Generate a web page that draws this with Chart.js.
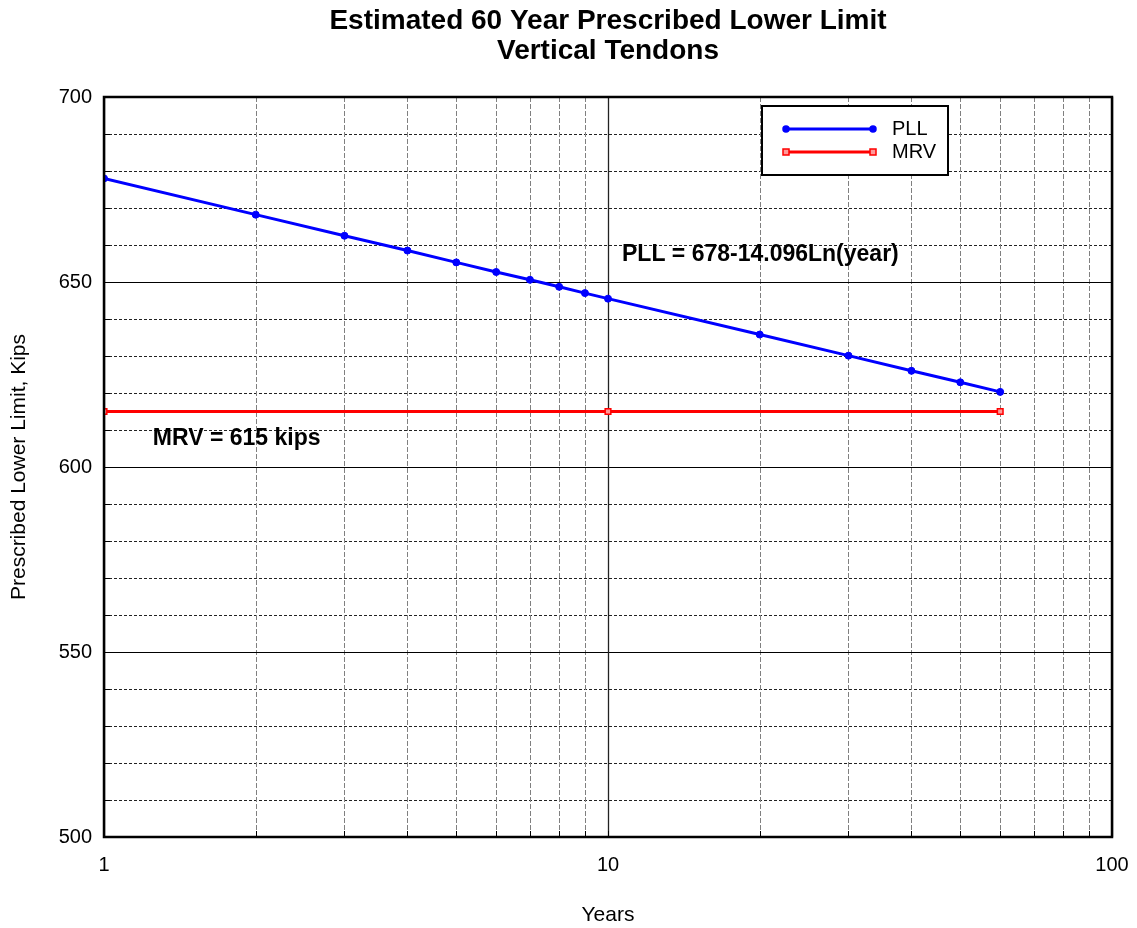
<!DOCTYPE html>
<html>
<head>
<meta charset="utf-8">
<script src="https://cdn.jsdelivr.net/npm/chart.js@4.4.1/dist/chart.umd.min.js"></script>
<style>
html,body{margin:0;padding:0;background:#fff;}
#wrap{width:1137px;height:928px;}
</style>
</head>
<body>
<div id="wrap"><canvas id="c" width="1137" height="928"></canvas></div>
<script>
// ---- data ----
const years = [1, 2, 3, 4, 5, 6, 7, 8, 9, 10, 20, 30, 40, 50, 60];
const pll = [678.0, 668.2, 662.5, 658.5, 655.3, 652.7, 650.6, 648.7, 647.0, 645.5, 635.8, 630.1, 626.0, 622.9, 620.3];
const mrvYears = [1, 10, 60];
const mrv = [615, 615, 615];
const xMajorTicks = [1, 10, 100];
const xMinorTicks = [2, 3, 4, 5, 6, 7, 8, 9, 20, 30, 40, 50, 60, 70, 80, 90];
const yMajorTicks = [500, 550, 600, 650, 700];
const yMinorTicks = [510, 520, 530, 540, 560, 570, 580, 590, 610, 620, 630, 640, 660, 670, 680, 690];
const titleLines = ['Estimated 60 Year Prescribed Lower Limit', 'Vertical Tendons'];
const seriesNames = ['PLL', 'MRV'];
const notes = [
  {text: 'PLL = 678-14.096Ln(year)', x: 10.66, y: 657.3},
  {text: 'MRV = 615 kips', x: 1.25, y: 607.6}
];

const FONT = 'Arial, "Liberation Sans", Helvetica, sans-serif';
const BLUE = '#0000ff', RED = '#ff0000';

const deco = {
  id: 'deco',
  beforeDatasetsDraw(chart) {
    const {ctx, chartArea: a, scales: {x, y}} = chart;
    const hl = (py) => { ctx.beginPath(); ctx.moveTo(a.left, py); ctx.lineTo(a.right, py); ctx.stroke(); };
    const vl = (px) => { ctx.beginPath(); ctx.moveTo(px, a.top); ctx.lineTo(px, a.bottom); ctx.stroke(); };
    ctx.save();
    // title
    ctx.fillStyle = '#000';
    ctx.font = 'bold 28px ' + FONT;
    ctx.textAlign = 'center';
    ctx.textBaseline = 'middle';
    const cx = (a.left + a.right) / 2;
    titleLines.forEach((t, i) => ctx.fillText(t, cx, 21 + i * 30));
    ctx.lineWidth = 1;
    // minor horizontal dashed
    ctx.strokeStyle = '#222';
    ctx.setLineDash([3, 2]);
    yMinorTicks.forEach(v => hl(Math.round(y.getPixelForValue(v)) + 0.5));
    // minor vertical dashed grey
    ctx.strokeStyle = '#808080';
    ctx.setLineDash([5, 2]);
    xMinorTicks.forEach(v => vl(Math.round(x.getPixelForValue(v)) + 0.5));
    // major solid
    ctx.setLineDash([]);
    ctx.strokeStyle = '#000';
    yMajorTicks.forEach(v => hl(Math.round(y.getPixelForValue(v)) + 0.5));
    ctx.strokeStyle = '#222';
    ctx.lineWidth = 1.3;
    xMajorTicks.forEach(v => vl(Math.round(x.getPixelForValue(v)) + 0.5));
    // inner ticks
    ctx.strokeStyle = '#000';
    ctx.lineWidth = 1;
    yMinorTicks.concat(yMajorTicks).forEach(v => {
      const py = Math.round(y.getPixelForValue(v)) + 0.5;
      ctx.beginPath(); ctx.moveTo(a.left, py); ctx.lineTo(a.left + 6, py); ctx.stroke();
    });
    xMinorTicks.concat(xMajorTicks).forEach(v => {
      const px = Math.round(x.getPixelForValue(v)) + 0.5;
      ctx.beginPath(); ctx.moveTo(px, a.bottom); ctx.lineTo(px, a.bottom - 6); ctx.stroke();
    });
    ctx.restore();
  },
  afterDatasetsDraw(chart) {
    const {ctx, chartArea: a, scales: {x, y}} = chart;
    ctx.save();
    // frame
    ctx.strokeStyle = '#000';
    ctx.lineWidth = 2.5;
    ctx.strokeRect(a.left, a.top, a.right - a.left, a.bottom - a.top);
    // notes
    ctx.fillStyle = '#000';
    ctx.font = 'bold 23px ' + FONT;
    ctx.textAlign = 'left';
    ctx.textBaseline = 'middle';
    notes.forEach(n => ctx.fillText(n.text, x.getPixelForValue(n.x), y.getPixelForValue(n.y)));
    // legend
    const lx = 762, ly = 106, lw = 186, lh = 69;
    ctx.fillStyle = '#fff';
    ctx.fillRect(lx, ly, lw, lh);
    ctx.lineWidth = 2;
    ctx.strokeStyle = '#000';
    ctx.strokeRect(lx, ly, lw, lh);
    const rows = [
      {name: seriesNames[0], color: BLUE, yy: 129, style: 'circle'},
      {name: seriesNames[1], color: RED, yy: 152, style: 'rect'}
    ];
    rows.forEach(r => {
      ctx.strokeStyle = r.color;
      ctx.lineWidth = 3;
      ctx.beginPath(); ctx.moveTo(786, r.yy); ctx.lineTo(873, r.yy); ctx.stroke();
      [786, 873].forEach(px => {
        ctx.lineWidth = 1.5;
        if (r.style === 'circle') {
          ctx.fillStyle = r.color;
          ctx.beginPath(); ctx.arc(px, r.yy, 3, 0, Math.PI * 2); ctx.fill(); ctx.stroke();
        } else {
          ctx.fillStyle = '#ff9999';
          ctx.fillRect(px - 3, r.yy - 3, 6, 6);
          ctx.strokeRect(px - 3, r.yy - 3, 6, 6);
        }
      });
      ctx.fillStyle = '#000';
      ctx.font = '20px ' + FONT;
      ctx.textAlign = 'left';
      ctx.textBaseline = 'middle';
      ctx.fillText(r.name, 892, r.yy);
    });
    ctx.restore();
  }
};

new Chart(document.getElementById('c'), {
  type: 'line',
  data: {
    datasets: [
      {
        label: seriesNames[0],
        data: years.map((v, i) => ({x: v, y: pll[i]})),
        borderColor: BLUE,
        backgroundColor: BLUE,
        borderWidth: 3,
        pointStyle: 'circle',
        pointRadius: 3.5,
        pointBorderWidth: 1,
        tension: 0
      },
      {
        label: seriesNames[1],
        data: mrvYears.map((v, i) => ({x: v, y: mrv[i]})),
        borderColor: RED,
        backgroundColor: '#ff9999',
        borderWidth: 3,
        pointStyle: 'rect',
        pointRadius: 4,
        pointBorderWidth: 1.5,
        tension: 0
      }
    ]
  },
  options: {
    responsive: false,
    animation: false,
    devicePixelRatio: 1,
    layout: {padding: {left: 0, right: 25, top: 97, bottom: 0}},
    plugins: {
      legend: {display: false},
      tooltip: {enabled: false},
      title: {display: false}
    },
    scales: {
      x: {
        type: 'logarithmic',
        min: 1,
        max: 100,
        grid: {display: false, drawTicks: false},
        border: {display: false},
        afterBuildTicks: (s) => { s.ticks = xMajorTicks.map(v => ({value: v})); },
        ticks: {
          autoSkip: false,
          maxRotation: 0,
          padding: 16,
          color: '#000',
          font: {family: FONT, size: 20},
          callback: (v) => String(v)
        },
        title: {
          display: true,
          text: 'Years',
          color: '#000',
          font: {family: FONT, size: 21},
          padding: {top: 0, bottom: 0}
        },
        afterFit: (s) => { s.height = 91; s.paddingLeft = 0; s.paddingRight = 0; }
      },
      y: {
        type: 'linear',
        min: 500,
        max: 700,
        grid: {display: false, drawTicks: false},
        border: {display: false},
        afterBuildTicks: (s) => { s.ticks = yMajorTicks.map(v => ({value: v})); },
        ticks: {
          autoSkip: false,
          padding: 12,
          color: '#000',
          font: {family: FONT, size: 20}
        },
        title: {
          display: true,
          text: 'Prescribed Lower Limit, Kips',
          color: '#000',
          font: {family: FONT, size: 21},
          padding: {top: 7, bottom: 0}
        },
        afterFit: (s) => { s.width = 104; s.paddingTop = 0; s.paddingBottom = 0; }
      }
    }
  },
  plugins: [deco]
});
</script>
</body>
</html>
